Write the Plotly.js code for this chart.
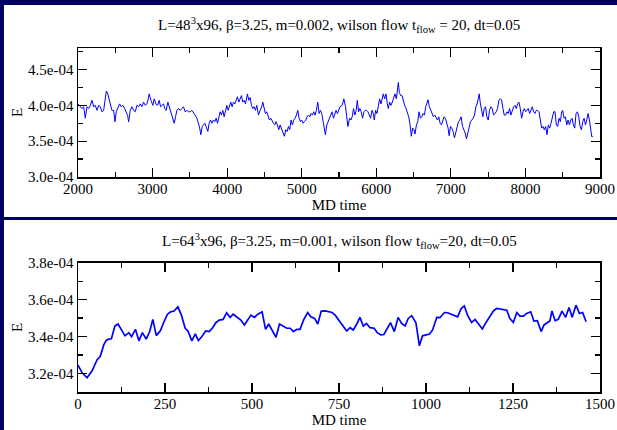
<!DOCTYPE html>
<html>
<head>
<meta charset="utf-8">
<script src="https://cdn.plot.ly/plotly-3.0.1.min.js"></script>
<style>
html,body{margin:0;padding:0;background:#000060;}
#chart{width:617px;height:430px;}
</style>
</head>
<body>
<div id="chart"></div>
<script>
// ---- Top panel data: L=48^3x96, m=0.002 ----
const topMD = [2000,2031,2054,2076,2098,2121,2143,2165,2188,2210,2232,2255,2277,2299,2321,2344,2362,2380,2397,2415,
2433,2455,2478,2496,2513,2536,2558,2580,2603,2625,2647,2665,2679,2701,2723,2746,2768,2790,2813,2835,
2857,2879,2902,2924,2942,2955,2978,3004,3022,3045,3067,3089,3107,3129,3147,3165,3183,3205,3228,3250,
3272,3290,3308,3326,3348,3371,3393,3415,3437,3460,3482,3504,3527,3549,3571,3594,3616,3629,3647,3665,
3683,3701,3719,3741,3759,3777,3795,3817,3835,3853,3871,3889,3906,3924,3942,3960,3978,3996,4013,4031,
4049,4067,4085,4103,4121,4138,4156,4174,4192,4210,4228,4246,4272,4290,4308,4326,4344,4362,4379,4397,
4420,4442,4464,4478,4496,4513,4531,4549,4567,4585,4603,4621,4639,4656,4674,4692,4710,4728,4746,4768,
4786,4804,4822,4839,4857,4875,4893,4911,4929,4947,4965,4983,5000,5018,5036,5054,5072,5090,5108,5126,
5144,5161,5179,5197,5215,5233,5251,5269,5287,5304,5318,5336,5353,5371,5389,5407,5425,5443,5461,5479,
5496,5514,5543,5565,5588,5606,5619,5642,5660,5677,5695,5713,5731,5745,5763,5780,5798,5816,5834,5852,
5870,5888,5906,5924,5942,5960,5973,5991,6009,6027,6045,6063,6081,6094,6112,6130,6148,6161,6179,6197,
6215,6233,6251,6269,6282,6296,6309,6327,6345,6363,6381,6399,6417,6435,6453,6470,6488,6506,6520,6538,
6556,6574,6592,6609,6627,6645,6663,6681,6694,6712,6730,6748,6766,6784,6802,6820,6838,6856,6874,6892,
6909,6927,6945,6963,6977,6995,7012,7030,7048,7066,7084,7102,7120,7138,7156,7174,7192,7210,7228,7245,
7263,7281,7299,7317,7335,7353,7366,7380,7393,7411,7429,7447,7465,7483,7501,7519,7537,7555,7572,7590,
7608,7626,7644,7662,7680,7698,7716,7734,7752,7770,7788,7805,7823,7841,7859,7877,7895,7913,7931,7949,
7967,7985,8003,8021,8038,8056,8074,8092,8110,8128,8146,8164,8182,8200,8218,8236,8253,8271,8289,8307,
8325,8343,8361,8379,8397,8415,8433,8451,8469,8486,8500,8518,8536,8554,8572,8590,8608,8626,8643,8661,
8679,8697,8715,8733,8751,8769,8787,8805,8822,8840,8858,8876,8890,8903];
const topE = [4.02e-4,3.98e-4,3.955e-4,3.98e-4,3.82e-4,3.98e-4,3.955e-4,4.0e-4,4.07e-4,3.98e-4,4.0e-4,3.93e-4,4.0e-4,3.98e-4,3.91e-4,3.93e-4,4.11e-4,4.2e-4,4.17e-4,4.09e-4,
4.0e-4,3.93e-4,3.93e-4,3.77e-4,3.91e-4,3.98e-4,4.02e-4,3.98e-4,4.0e-4,3.955e-4,3.91e-4,3.86e-4,3.77e-4,3.93e-4,3.98e-4,3.93e-4,3.91e-4,4.0e-4,3.98e-4,4.02e-4,
3.98e-4,4.045e-4,4.0e-4,4.02e-4,4.09e-4,4.16e-4,4.07e-4,4.0e-4,4.09e-4,4.02e-4,4.0e-4,4.07e-4,3.98e-4,4.0e-4,4.02e-4,3.955e-4,3.93e-4,4.045e-4,3.955e-4,3.886e-4,
3.82e-4,3.75e-4,3.84e-4,3.93e-4,3.955e-4,3.93e-4,3.955e-4,3.98e-4,3.91e-4,3.93e-4,3.91e-4,3.91e-4,3.93e-4,3.886e-4,3.864e-4,3.82e-4,3.75e-4,3.70e-4,3.59e-4,3.70e-4,
3.727e-4,3.75e-4,3.70e-4,3.636e-4,3.75e-4,3.795e-4,3.75e-4,3.795e-4,3.773e-4,3.82e-4,3.75e-4,3.864e-4,3.91e-4,3.864e-4,3.93e-4,3.84e-4,3.93e-4,4.0e-4,3.93e-4,4.0e-4,
4.045e-4,3.98e-4,4.045e-4,4.02e-4,4.09e-4,4.12e-4,4.045e-4,4.09e-4,4.136e-4,4.045e-4,4.07e-4,4.02e-4,4.16e-4,4.07e-4,4.11e-4,4.0e-4,3.955e-4,3.98e-4,3.93e-4,4.0e-4,
3.864e-4,3.93e-4,3.98e-4,4.045e-4,3.955e-4,3.886e-4,3.91e-4,3.84e-4,3.795e-4,3.82e-4,3.773e-4,3.75e-4,3.727e-4,3.773e-4,3.727e-4,3.659e-4,3.727e-4,3.682e-4,3.636e-4,3.568e-4,
3.659e-4,3.636e-4,3.705e-4,3.659e-4,3.795e-4,3.727e-4,3.795e-4,3.82e-4,3.864e-4,3.93e-4,3.82e-4,3.773e-4,3.795e-4,3.75e-4,3.773e-4,3.795e-4,3.84e-4,3.864e-4,3.84e-4,3.886e-4,
3.864e-4,3.91e-4,3.864e-4,3.93e-4,4.045e-4,3.886e-4,3.93e-4,3.886e-4,3.773e-4,3.682e-4,3.59e-4,3.727e-4,3.773e-4,3.795e-4,3.864e-4,3.91e-4,3.82e-4,3.886e-4,3.93e-4,3.886e-4,
3.93e-4,3.98e-4,4.0e-4,4.09e-4,3.98e-4,3.84e-4,3.705e-4,3.82e-4,3.795e-4,3.84e-4,3.955e-4,3.864e-4,3.93e-4,4.07e-4,3.91e-4,3.955e-4,3.91e-4,3.82e-4,3.91e-4,3.93e-4,
3.93e-4,3.91e-4,3.864e-4,3.82e-4,3.93e-4,3.886e-4,3.795e-4,3.93e-4,3.886e-4,3.98e-4,4.09e-4,4.02e-4,4.09e-4,4.16e-4,4.09e-4,4.16e-4,4.02e-4,3.955e-4,4.045e-4,4.0e-4,
4.045e-4,4.11e-4,4.16e-4,4.09e-4,4.2e-4,4.32e-4,4.18e-4,4.136e-4,4.136e-4,4.045e-4,4.0e-4,3.955e-4,3.91e-4,3.84e-4,3.727e-4,3.568e-4,3.682e-4,3.659e-4,3.60e-4,3.727e-4,
3.773e-4,3.91e-4,3.82e-4,3.84e-4,3.886e-4,3.864e-4,3.98e-4,4.045e-4,4.077e-4,3.98e-4,3.93e-4,3.886e-4,3.84e-4,3.864e-4,3.82e-4,3.795e-4,3.84e-4,3.75e-4,3.727e-4,3.773e-4,
3.84e-4,3.82e-4,3.75e-4,3.682e-4,3.577e-4,3.705e-4,3.682e-4,3.636e-4,3.545e-4,3.636e-4,3.682e-4,3.773e-4,3.795e-4,3.84e-4,3.705e-4,3.659e-4,3.614e-4,3.532e-4,3.614e-4,3.705e-4,
3.773e-4,3.795e-4,3.82e-4,3.864e-4,3.98e-4,4.02e-4,4.09e-4,4.16e-4,4.045e-4,3.93e-4,3.84e-4,3.955e-4,3.98e-4,3.84e-4,3.795e-4,3.93e-4,3.98e-4,3.955e-4,3.864e-4,3.886e-4,
3.91e-4,3.955e-4,4.07e-4,4.09e-4,4.077e-4,3.955e-4,3.864e-4,3.864e-4,3.91e-4,3.886e-4,3.955e-4,3.864e-4,3.93e-4,3.98e-4,4.0e-4,3.955e-4,4.02e-4,4.045e-4,3.955e-4,3.82e-4,
3.91e-4,3.955e-4,3.91e-4,3.93e-4,3.955e-4,3.886e-4,3.93e-4,3.98e-4,3.91e-4,3.886e-4,3.93e-4,3.93e-4,3.91e-4,3.82e-4,3.682e-4,3.705e-4,3.659e-4,3.705e-4,3.591e-4,3.727e-4,
3.682e-4,3.75e-4,3.84e-4,3.91e-4,3.91e-4,3.727e-4,3.705e-4,3.82e-4,3.773e-4,3.91e-4,3.93e-4,3.82e-4,3.84e-4,3.727e-4,3.795e-4,3.727e-4,3.795e-4,3.82e-4,3.727e-4,3.682e-4,
3.886e-4,3.91e-4,3.84e-4,3.705e-4,3.659e-4,3.773e-4,3.82e-4,3.727e-4,3.795e-4,3.886e-4,3.795e-4,3.636e-4,3.56e-4,3.568e-4];

// ---- Bottom panel data: L=64^3x96, m=0.001 ----
const botMD = [0,12,26,40,55,64,74,81,88,96,106,115,125,135,146,154,165,175,185,196,
206,215,225,237,247,257,266,276,287,297,308,316,327,337,346,356,367,377,387,396,
406,417,427,437,446,456,468,478,488,497,507,516,529,539,548,558,569,579,590,600,
610,619,629,638,648,660,669,680,689,699,711,720,730,739,750,762,772,782,791,801,
810,820,829,839,851,860,870,879,889,898,909,920,930,940,949,959,971,981,990,1000,
1010,1019,1031,1040,1053,1062,1072,1081,1091,1101,1110,1120,1131,1141,1152,1162,1172,1184,1194,1203,
1213,1222,1232,1241,1251,1261,1270,1280,1289,1301,1310,1320,1331,1339,1349,1356,1362,1371,1380,1391,
1401,1411,1420,1431,1441,1450,1460];
const botE = [3.245e-4,3.204e-4,3.177e-4,3.213e-4,3.275e-4,3.293e-4,3.355e-4,3.379e-4,3.386e-4,3.388e-4,3.457e-4,3.468e-4,3.436e-4,3.404e-4,3.421e-4,3.40e-4,3.439e-4,3.377e-4,3.421e-4,3.386e-4,
3.427e-4,3.493e-4,3.405e-4,3.432e-4,3.48e-4,3.521e-4,3.534e-4,3.538e-4,3.561e-4,3.516e-4,3.445e-4,3.43e-4,3.377e-4,3.414e-4,3.379e-4,3.40e-4,3.43e-4,3.427e-4,3.448e-4,3.475e-4,
3.489e-4,3.493e-4,3.529e-4,3.504e-4,3.521e-4,3.507e-4,3.489e-4,3.463e-4,3.489e-4,3.516e-4,3.504e-4,3.52e-4,3.534e-4,3.439e-4,3.468e-4,3.436e-4,3.396e-4,3.468e-4,3.454e-4,3.445e-4,
3.445e-4,3.427e-4,3.439e-4,3.439e-4,3.489e-4,3.53e-4,3.507e-4,3.498e-4,3.468e-4,3.538e-4,3.539e-4,3.534e-4,3.53e-4,3.516e-4,3.489e-4,3.454e-4,3.43e-4,3.448e-4,3.436e-4,3.468e-4,
3.504e-4,3.457e-4,3.471e-4,3.448e-4,3.445e-4,3.421e-4,3.409e-4,3.411e-4,3.445e-4,3.475e-4,3.427e-4,3.504e-4,3.471e-4,3.457e-4,3.498e-4,3.513e-4,3.475e-4,3.35e-4,3.404e-4,3.407e-4,
3.414e-4,3.436e-4,3.504e-4,3.502e-4,3.53e-4,3.529e-4,3.521e-4,3.516e-4,3.507e-4,3.552e-4,3.566e-4,3.513e-4,3.477e-4,3.493e-4,3.463e-4,3.441e-4,3.475e-4,3.513e-4,3.539e-4,3.552e-4,
3.548e-4,3.543e-4,3.543e-4,3.498e-4,3.477e-4,3.53e-4,3.511e-4,3.511e-4,3.525e-4,3.534e-4,3.484e-4,3.486e-4,3.427e-4,3.463e-4,3.477e-4,3.484e-4,3.539e-4,3.486e-4,3.493e-4,3.538e-4,
3.504e-4,3.557e-4,3.504e-4,3.57e-4,3.525e-4,3.53e-4,3.48e-4];

// ---- Tick labels ----
const topYTickVals = [3.0e-4, 3.5e-4, 4.0e-4, 4.5e-4];
const topYTickText = ['3.0e-04', '3.5e-04', '4.0e-04', '4.5e-04'];
const botYTickVals = [3.2e-4, 3.4e-4, 3.6e-4, 3.8e-4];
const botYTickText = ['3.2e-04', '3.4e-04', '3.6e-04', '3.8e-04'];

const topTitle = 'L=48<sup>3</sup>x96, β=3.25, m=0.002, wilson flow t<sub>flow</sub> = 20, dt=0.05';
const botTitle = 'L=64<sup>3</sup>x96, β=3.25, m=0.001, wilson flow t<sub>flow</sub>=20, dt=0.05';

const FONT = 'Liberation Serif';
const navy = '#000060';

const axisCommon = {
  showline: true, linecolor: 'black', linewidth: 1.5, mirror: 'ticks',
  ticks: 'inside', ticklen: 9, tickwidth: 1.2, tickcolor: 'black',
  showgrid: false, zeroline: false,
  tickfont: {family: FONT, size: 15, color: 'black'}
};

const traces = [
  {x: topMD, y: topE, type: 'scatter', mode: 'lines', xaxis: 'x', yaxis: 'y',
   line: {color: '#0000ff', width: 1}, hoverinfo: 'skip'},
  {x: botMD, y: botE, type: 'scatter', mode: 'lines', xaxis: 'x2', yaxis: 'y2',
   line: {color: '#0000ff', width: 1.7}, hoverinfo: 'skip'}
];

const layout = {
  width: 617, height: 430,
  margin: {l: 78, r: 17, t: 48, b: 38},
  paper_bgcolor: navy, plot_bgcolor: 'white',
  showlegend: false,
  font: {family: FONT, size: 15, color: 'black'},
  xaxis: Object.assign({}, axisCommon, {
    domain: [0, 1], anchor: 'y', range: [2000, 9000], tickmode: 'linear', tick0: 2000, dtick: 1000,
    ticklabelstandoff: -3,
    minor: {ticks: 'inside', ticklen: 5, tickcolor: 'black', tickwidth: 1.2, tick0: 2000, dtick: 500},
    title: {text: 'MD time', font: {family: FONT, size: 15, color: 'black'}, standoff: 0}
  }),
  yaxis: Object.assign({}, axisCommon, {
    domain: [0.625, 1], anchor: 'x', range: [3.0e-4, 4.8e-4],
    tickmode: 'array', tickvals: topYTickVals, ticktext: topYTickText,
    minor: {ticks: 'inside', ticklen: 5, tickcolor: 'black', tickwidth: 1.2, tick0: 3.0e-4, dtick: 0.25e-4},
    title: {text: 'E', font: {family: FONT, size: 15, color: 'black'}, standoff: 2}
  }),
  xaxis2: Object.assign({}, axisCommon, {
    domain: [0, 1], anchor: 'y2', range: [0, 1500], tickmode: 'linear', tick0: 0, dtick: 250,
    ticklabelstandoff: -3,
    minor: {ticks: 'inside', ticklen: 5, tickcolor: 'black', tickwidth: 1.2, tick0: 0, dtick: 125},
    title: {text: 'MD time', font: {family: FONT, size: 15, color: 'black'}, standoff: 0}
  }),
  yaxis2: Object.assign({}, axisCommon, {
    domain: [0, 0.376], anchor: 'x2', range: [3.1e-4, 3.8e-4],
    tickmode: 'array', tickvals: botYTickVals, ticktext: botYTickText,
    minor: {ticks: 'inside', ticklen: 5, tickcolor: 'black', tickwidth: 1.2, tick0: 3.1e-4, dtick: 0.1e-4},
    title: {text: 'E', font: {family: FONT, size: 15, color: 'black'}, standoff: 2}
  }),
  shapes: [
    {type: 'rect', xref: 'paper', yref: 'paper', x0: -0.1418, x1: 1.06, y0: 0.5087, y1: 1.125,
     fillcolor: 'white', line: {width: 0}, layer: 'below'},
    {type: 'rect', xref: 'paper', yref: 'paper', x0: -0.1418, x1: 1.06, y0: -0.2, y1: 0.5,
     fillcolor: 'white', line: {width: 0}, layer: 'below'}
  ],
  annotations: [
    {text: topTitle, xref: 'paper', yref: 'paper', x: 0.5, y: 1.067, xanchor: 'center', yanchor: 'middle',
     showarrow: false, font: {family: FONT, size: 15, color: 'black'}},
    {text: botTitle, xref: 'paper', yref: 'paper', x: 0.5, y: 0.439, xanchor: 'center', yanchor: 'middle',
     showarrow: false, font: {family: FONT, size: 15, color: 'black'}}
  ]
};

Plotly.newPlot('chart', traces, layout, {displayModeBar: false, staticPlot: true});
</script>
</body>
</html>
